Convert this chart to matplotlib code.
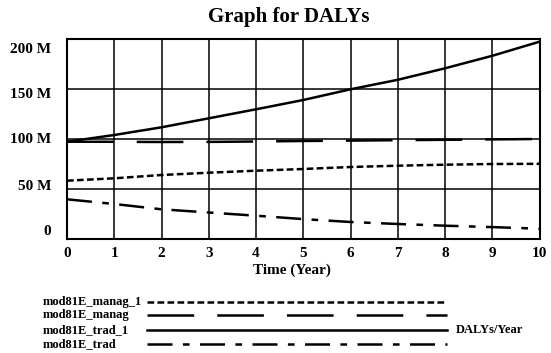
import matplotlib
matplotlib.use("Agg")
import matplotlib.pyplot as plt
from matplotlib.lines import Line2D
from matplotlib.transforms import ScaledTranslation

plt.rcParams['font.family'] = ['Liberation Serif', 'DejaVu Serif']
plt.rcParams['font.weight'] = 'bold'
plt.rcParams['lines.scale_dashes'] = False

# values (DALYs, millions)
years = [0, 1, 2, 3, 4, 5, 6, 7, 8, 9, 10]
manag_1 = [58.6, 61.0, 64.3, 66.6, 68.6, 70.3, 72.3, 73.6, 74.6, 75.3, 75.5]
manag = [97.6, 97.5, 97.3, 97.4, 97.8, 98.3, 98.7, 99.1, 99.5, 99.9, 100.3]
trad_1 = [97.6, 104.3, 112.0, 121.0, 130.0, 139.3, 150.0, 159.5, 171.0, 183.5, 197.6]
trad = [40.0, 35.3, 30.0, 26.8, 23.6, 20.2, 17.3, 15.3, 13.6, 12.2, 10.6]

series_names = ['mod81E_manag_1', 'mod81E_manag', 'mod81E_trad_1', 'mod81E_trad']
series_values = [manag_1, manag, trad_1, trad]
y_ticks = [0, 50, 100, 150, 200]
y_tick_labels = ['0', '50 M', '100 M', '150 M', '200 M']

# dash patterns in points
dash_styles = [(0, (4.8, 2.4)), (0, (33.6, 16.6)), '-', (0, (18, 7.5, 4.8, 7.5))]

W, H = 551, 353
fig = plt.figure(figsize=(W / 100, H / 100), dpi=100)
ax = fig.add_axes([67 / W, 1 - 239.3 / H, (539.5 - 67) / W, (239.3 - 39.3) / H])

for vals, ls in zip(series_values, dash_styles):
    ax.plot(years, [v * 1e6 for v in vals], color='black', lw=1.8, linestyle=ls,
            solid_capstyle='butt', dash_capstyle='butt', zorder=3)

ax.set_xlim(0, 10)
ax.set_ylim(0, 200e6)
ax.set_xticks(years)
ax.set_xticklabels([str(y) for y in years], fontsize=11, fontweight='bold')
ax.set_yticks([t * 1e6 for t in y_ticks])
ax.set_yticklabels(y_tick_labels, fontsize=11, fontweight='bold')
ax.tick_params(axis='x', length=0, pad=5.5)
ax.tick_params(axis='y', length=0, pad=11.5)
ax.grid(True, color='black', lw=1.1)
for sp in ax.spines.values():
    sp.set_linewidth(1.5)

# the y labels sit a little off their grid lines, as in the original
offsets = [9.3, 4.3, 1.6, -4.0, -9.0]
for lbl, dy in zip(ax.get_yticklabels(), offsets):
    lbl.set_transform(lbl.get_transform() + ScaledTranslation(0, dy / 100, fig.dpi_scale_trans))

fig.text(289 / W, 1 - 17 / H, 'Graph for DALYs', ha='center', va='center',
         fontsize=15, fontweight='bold')
fig.text(292 / W, 1 - 270 / H, 'Time (Year)', ha='center', va='center',
         fontsize=11, fontweight='bold')

# legend block under the chart
legend_y = [302, 315, 330, 344]
for name, ls, yy in zip(series_names, dash_styles, legend_y):
    fig.text(43 / W, 1 - yy / H, name, ha='left', va='center', fontsize=9, fontweight='bold')
    fig.add_artist(Line2D([147 / W, 447 / W], [1 - yy / H, 1 - yy / H],
                          transform=fig.transFigure, color='black', lw=1.8,
                          linestyle=ls, dash_capstyle='butt'))
fig.text(456 / W, 1 - 330 / H, 'DALYs/Year', ha='left', va='center', fontsize=9, fontweight='bold')

fig.savefig('out.png', dpi=100)
